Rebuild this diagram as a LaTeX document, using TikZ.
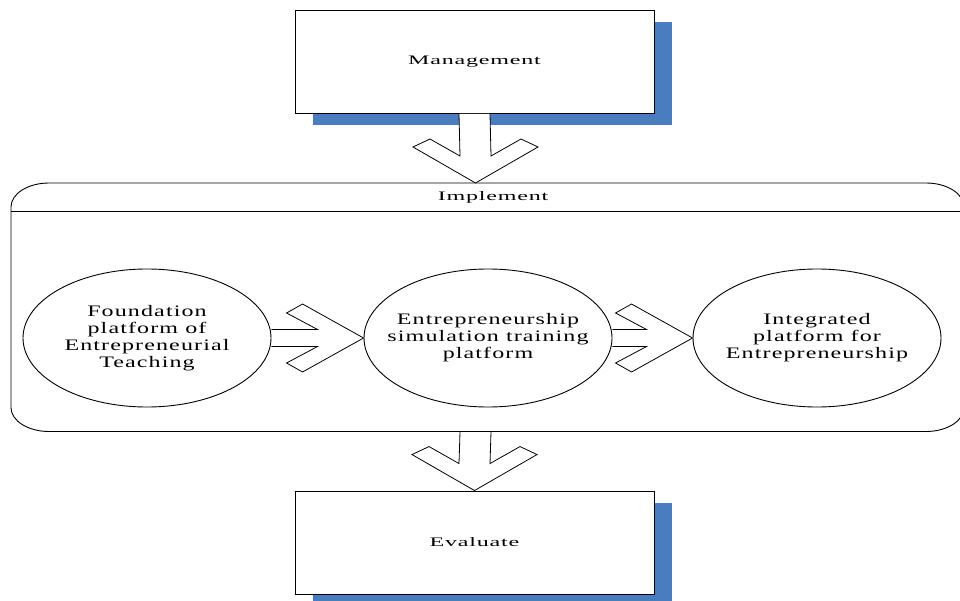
\documentclass[tikz,border=0pt]{standalone}
\usepackage{fontspec}
\setmainfont{Liberation Serif}
\newfontfamily\boxfont[FakeStretch=1.85,LetterSpace=6]{Liberation Serif}
\newfontfamily\circfont[FakeStretch=1.5,LetterSpace=7]{Liberation Serif}
\usetikzlibrary{shapes.geometric,calc,shadows}
\definecolor{shadowblue}{RGB}{74,125,192}
\newcommand\hfatarrow[2]{%
  \draw[fatarrow] ($(#1.east)+(0,-8.5)$) -- ($(#2.west)+(-46,-8.5)$) -- ($(#2.west)+(-77,-25)$)
    -- ($(#2.west)+(-61,-34)$) -- (#2.west) -- ($(#2.west)+(-61,34)$) -- ($(#2.west)+(-77,25)$)
    -- ($(#2.west)+(-46,8.5)$) -- ($(#1.east)+(0,8.5)$);}
\newcommand\vfatarrow[2]{%
  \filldraw[fatarrow,fill=white] ($(#1)+(-15.5,0.5)$) -- ($(#2)+(-15.5,-27)$) -- ($(#2)+(-45.5,-44)$)
    -- ($(#2)+(-62.5,-36)$) -- (#2) -- ($(#2)+(62.5,-36)$) -- ($(#2)+(45.5,-44)$)
    -- ($(#2)+(15.5,-27)$) -- ($(#1)+(15.5,0.5)$);}
\begin{document}
\begin{tikzpicture}[x=1pt,y=-1pt,line width=0.9pt,
  boxtext/.style={font=\boxfont\fontsize{13}{15}\selectfont},
  mainbox/.style={draw=black,fill=white,minimum width=359pt,minimum height=103pt,inner sep=0pt,boxtext,
    drop shadow={shadow xshift=18pt,shadow yshift=-12pt,fill=shadowblue,opacity=1}},
  platform/.style={draw=black,ellipse,minimum width=248pt,minimum height=138pt,inner sep=0pt},
  platformtext/.style={align=center,inner sep=0pt,font=\circfont\fontsize{16}{17}\selectfont},
  fatarrow/.style={draw=black,line width=0.8pt,line join=miter}]
\useasboundingbox (0,0) rectangle (960,601);
\fill[white] (0,0) rectangle (960,601);
% Implement container
\draw (11,207) .. controls (11,193.7) and (28,183) .. (49,183) -- (926,183)
  .. controls (947,183) and (964,193.7) .. (964,207) -- (964,407.5)
  .. controls (964,420.8) and (947,431.5) .. (926,431.5) -- (49,431.5)
  .. controls (28,431.5) and (11,420.8) .. (11,407.5) -- cycle;
\draw (11,211) -- (964,211);
\node[boxtext] (impl) at (493,197) {Implement};
\coordinate (implTop) at (475.5,183);
\coordinate (implBot) at (475.5,431.5);
% boxes
\node[mainbox] (mgmt) at (474.5,61.5) {Management};
\node[mainbox] (eval) at (474.5,542.5) {Evaluate};
% platforms
\node[platform] (found) at (147,338) {};
\node[platform] (sim) at (488,338) {};
\node[platform] (integ) at (817,338) {};
\node[platformtext] (foundtext) at (found.center) {Foundation\\platform of\\Entrepreneurial\\Teaching};
\node[platformtext] (simtext) at (sim.center) {Entrepreneurship\\simulation training\\platform};
\node[platformtext] (integtext) at (integ.center) {Integrated\\platform for\\Entrepreneurship};
% arrows
\vfatarrow{mgmt.south}{implTop}
\vfatarrow{implBot}{eval.north}
\hfatarrow{found}{sim}
\hfatarrow{sim}{integ}
\end{tikzpicture}
\end{document}
